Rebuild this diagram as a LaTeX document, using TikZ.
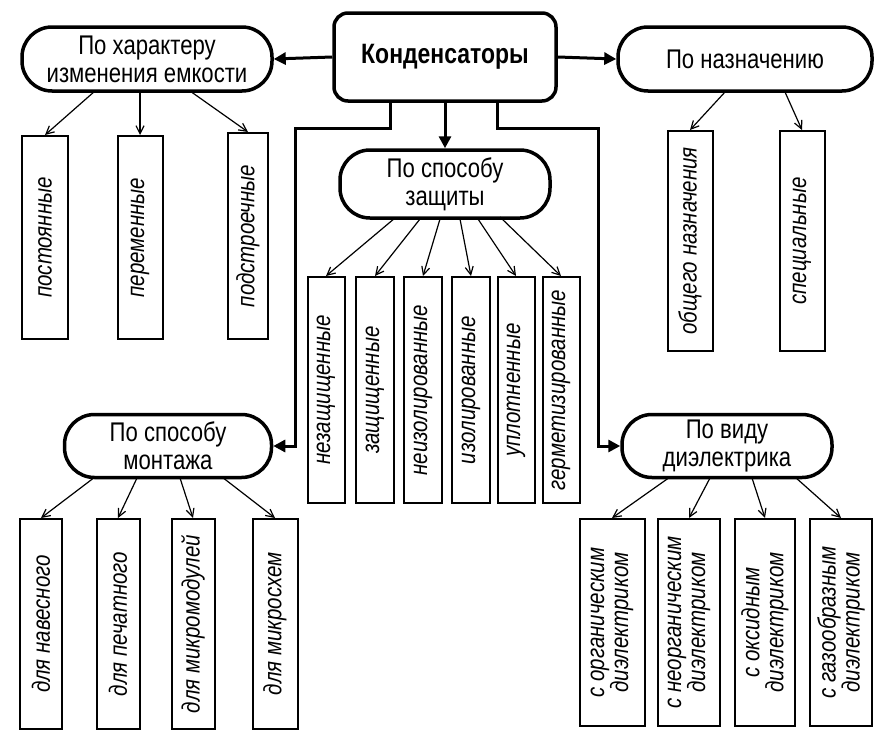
\documentclass[tikz,border=0pt]{standalone}
\usepackage{fontspec}
\setmainfont{Liberation Sans}[FakeStretch=0.82]
\usetikzlibrary{arrows.meta}
\begin{document}
\begin{tikzpicture}[x=1pt,y=-1pt,
  stad/.style={draw,line width=3.5pt,rounded corners=30pt,align=center,font=\fontsize{27}{28}\selectfont,inner sep=0pt},
  box/.style={draw,line width=2pt,inner sep=0pt},
  lab/.style={rotate=90,font=\itshape\fontsize{25}{24}\selectfont,align=center},
  thin/.style={line width=1.2pt,-{Straight Barb[length=8pt,width=8pt]}},
  thick/.style={line width=3pt,-{Triangle[length=12pt,width=12pt]}}]
\useasboundingbox (0,0) rectangle (886,736);
% main
\node[draw,line width=3.5pt,rounded corners=14pt,minimum width=222pt,minimum height=88pt,font=\bfseries\fontsize{28}{30}\selectfont] (main) at (445,57) {Конденсаторы};
\node[stad,minimum width=250pt,minimum height=64pt] (har) at (147,59) {По характеру\\изменения емкости};
\node[stad,minimum width=254pt,minimum height=64pt] (naz) at (745,59) {По назначению};
\node[stad,minimum width=210pt,minimum height=68pt] (zas) at (445,184) {По способу\\защиты};
\node[stad,minimum width=207pt,minimum height=63pt] (mon) at (168,446) {По способу\\монтажа};
\node[stad,minimum width=210pt,minimum height=63pt] (die) at (727,446) {По виду\\диэлектрика};
\draw[thick] (main.west) -- (har.east);
\draw[thick] (main.east) -- (naz.west);
\draw[thick] (main.south) -- (zas.north);
\coordinate (ml) at (390,102); \coordinate (mr) at (497,102);
\draw[thick] (ml) -- (390,128) -- (295,128) -- (295,446) -- (mon.east);
\draw[thick] (mr) -- (497,128) -- (598,128) -- (598,446) -- (die.west);
% boxes
\newcommand\bx[6]{\node[box,minimum width=#3pt,minimum height=#4pt,anchor=north] (#1) at (#2,#5) {}; \node[lab] at (#1.center) {#6};}
\bx{a1}{45}{46}{203}{135}{постоянные}
\bx{a2}{140}{45}{203}{135}{переменные}
\bx{a3}{248}{40}{206}{132}{подстроечные}
\bx{b1}{690}{45}{220}{130}{общего назначения}
\bx{b2}{802}{45}{220}{130}{специальные}
\bx{c1}{326}{37}{226}{276}{незащищенные}
\bx{c2}{375}{38}{226}{276}{защищенные}
\bx{c3}{423}{38}{226}{276}{неизолированные}
\bx{c4}{471}{38}{226}{276}{изолированные}
\bx{c5}{516}{37}{226}{276}{уплотненные}
\bx{c6}{561}{37}{226}{276}{герметизированные}
\bx{d1}{41}{42}{210}{518}{для навесного}
\bx{d2}{118}{43}{210}{518}{для печатного}
\bx{d3}{193}{43}{210}{518}{для микромодулей}
\bx{d4}{275}{45}{210}{518}{для микросхем}
\bx{e1}{612}{65}{207}{518}{с органическим\\диэлектриком}
\bx{e2}{689}{62}{207}{518}{с неорганическим\\диэлектриком}
\bx{e3}{765}{60}{207}{518}{с оксидным\\диэлектриком}
\bx{e4}{841}{62}{207}{518}{с газообразным\\диэлектриком}
% thin arrows
\draw[thin] (95,91) -- (a1.north);
\draw[thin] (140,91) -- (a2.north);
\draw[thin] (190,91) -- (a3.north);
\draw[thin] (725,92) -- (b1.north);
\draw[thin] (785,92) -- (b2.north);
\draw[thin] (395,218) -- (c1.north);
\draw[thin] (420,219) -- (c2.north);
\draw[thin] (440,219) -- (c3.north);
\draw[thin] (460,219) -- (c4.north);
\draw[thin] (478,219) -- (c5.north);
\draw[thin] (500,217) -- (c6.north);
\draw[thin] (95,477) -- (d1.north);
\draw[thin] (137,478) -- (d2.north);
\draw[thin] (180,478) -- (d3.north);
\draw[thin] (222,477) -- (d4.north);
\draw[thin] (670,477) -- (e1.north);
\draw[thin] (710,478) -- (e2.north);
\draw[thin] (752,478) -- (e3.north);
\draw[thin] (795,477) -- (e4.north);
\end{tikzpicture}
\end{document}
